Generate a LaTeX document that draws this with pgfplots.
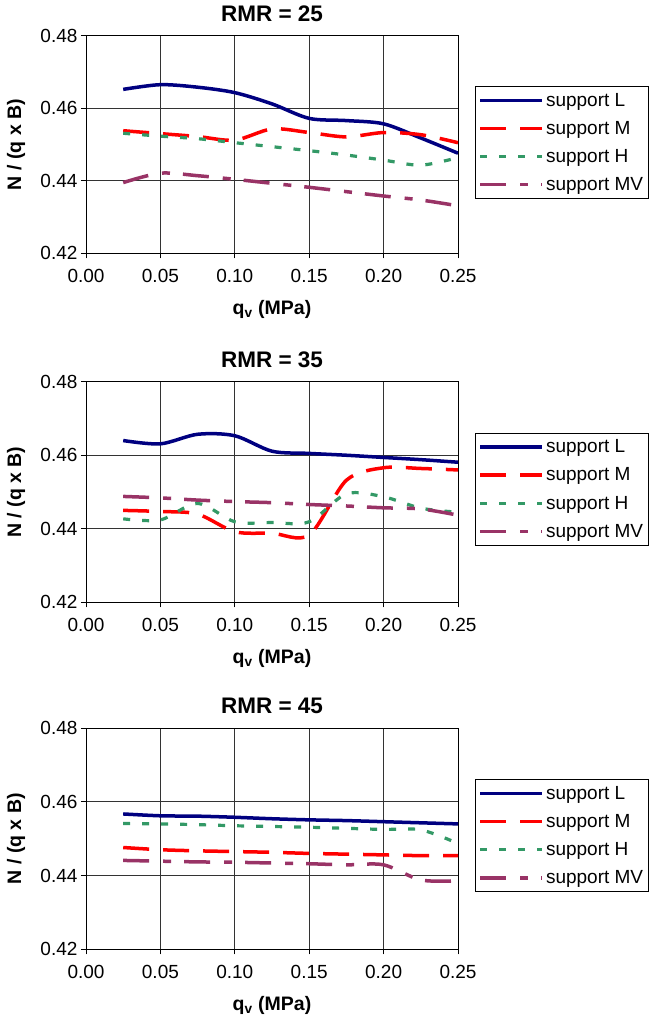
\documentclass[border=0pt]{standalone}
\usepackage{pgfplots}
\pgfplotsset{compat=1.18}
\usepackage{fontspec}
\setmainfont{Liberation Sans}
\definecolor{cL}{HTML}{000080}
\definecolor{cM}{HTML}{FF0000}
\definecolor{cH}{HTML}{339966}
\definecolor{cMV}{HTML}{993366}
\pgfplotsset{
 myax/.style={
  scale only axis, width=372pt,
  xmin=0, xmax=0.25, ymin=0.42, ymax=0.48,
  xtick={0,0.05,0.10,0.15,0.20,0.25}, ytick={0.42,0.44,0.46,0.48},
  grid=major, major grid style={line width=0.8pt, black!80},
  axis line style={line width=0.9pt, black},
  tick align=outside, tick pos=left, major tick length=5pt,
  tick style={line width=0.8pt, black},
  tick label style={font=\fontsize{19}{22}\selectfont},
  xticklabel style={yshift=-7pt},
  /pgf/number format/.cd, fixed, fixed zerofill, precision=2, assume math mode=true, /pgfplots/.cd,
  title style={font=\bfseries\fontsize{22.5}{26}\selectfont, at={(0.5,1)}, anchor=base, yshift=8.5pt, inner sep=0pt},
  xlabel={q\textsubscript{v} (MPa)},
  ylabel={N / (q x B)},
  xlabel style={font=\bfseries\fontsize{19.5}{22}\selectfont, at={(0.5,0)}, anchor=base, yshift=-60.7pt, inner sep=0pt},
  ylabel style={font=\bfseries\fontsize{19.5}{22}\selectfont, at={(-0.188,0.5)}, anchor=center, inner sep=0pt},
  legend style={draw=black, line width=0.8pt, at={(1.046,0.768)}, anchor=north west,
     inner xsep=3pt, inner ysep=4.5pt, font=\fontsize{19}{22}\selectfont, row sep=9.5pt,
     /tikz/every even column/.append style={column sep=3pt}},
  legend cell align=left,
  legend image code/.code={\draw[##1] (0pt,0pt) -- (62pt,0pt);},
  every axis plot/.append style={line width=3.5pt, smooth, no marks},
 },
 sL/.style={color=cL, solid},
 sM/.style={color=cM, dash pattern=on 26pt off 14pt},
 sH/.style={color=cH, dash pattern=on 7pt off 12pt, line width=3.2pt},
 sMV/.style={color=cMV, dash pattern=on 26pt off 14pt on 8pt off 13pt},
}
\begin{document}
\begin{tikzpicture}
\useasboundingbox (0,0) rectangle (652pt,-1020pt);
% ---------- RMR 25
\begin{axis}[myax, height=217.6pt, at={(86pt,-253.3pt)}, anchor=south west, title={RMR = 25}]
\addplot[sL] coordinates {(0.025,0.4652)(0.05,0.4665)(0.075,0.4658)(0.10,0.4643)(0.125,0.4612)(0.15,0.4572)(0.175,0.4566)(0.20,0.4557)(0.225,0.4518)(0.25,0.4476)};
\addplot[sM] coordinates {(0.025,0.4538)(0.05,0.4530)(0.075,0.4522)(0.10,0.4512)(0.125,0.4543)(0.15,0.4533)(0.175,0.4521)(0.20,0.4533)(0.225,0.4527)(0.25,0.4505)};
\addplot[sH] coordinates {(0.025,0.4531)(0.05,0.4523)(0.075,0.4516)(0.10,0.4505)(0.125,0.4494)(0.15,0.4483)(0.175,0.4471)(0.20,0.4457)(0.225,0.4443)(0.25,0.4464)};
\addplot[sMV] coordinates {(0.025,0.4395)(0.05,0.4421)(0.075,0.4414)(0.10,0.4404)(0.125,0.4393)(0.15,0.4382)(0.175,0.4370)(0.20,0.4358)(0.225,0.4347)(0.25,0.4331)};
\legend{support L, support M, support H, support MV}
\end{axis}
% ---------- RMR 35
\begin{axis}[myax, height=220.6pt, at={(86pt,-602.3pt)}, anchor=south west, title={RMR = 35}]
\addplot[sL] coordinates {(0.025,0.4640)(0.05,0.4631)(0.075,0.4657)(0.10,0.4653)(0.125,0.4611)(0.15,0.4605)(0.175,0.4600)(0.20,0.4594)(0.225,0.4588)(0.25,0.4581)};
\addplot[sM] coordinates {(0.025,0.4450)(0.05,0.4447)(0.075,0.4440)(0.10,0.4392)(0.125,0.4388)(0.15,0.4383)(0.175,0.4532)(0.20,0.4566)(0.225,0.4564)(0.25,0.4560)};
\addplot[sH] coordinates {(0.025,0.4427)(0.05,0.4424)(0.075,0.4469)(0.10,0.4419)(0.125,0.4417)(0.15,0.4419)(0.175,0.4495)(0.20,0.4487)(0.225,0.4456)(0.25,0.4445)};
\addplot[sMV] coordinates {(0.025,0.4488)(0.05,0.4484)(0.075,0.4478)(0.10,0.4474)(0.125,0.4471)(0.15,0.4466)(0.175,0.4462)(0.20,0.4457)(0.225,0.4454)(0.25,0.4437)};
\legend{support L, support M, support H, support MV}
\end{axis}
% ---------- RMR 45
\begin{axis}[myax, height=221.3pt, at={(86pt,-949.3pt)}, anchor=south west, title={RMR = 45}]
\addplot[sL] coordinates {(0.025,0.4567)(0.05,0.4562)(0.075,0.4561)(0.10,0.4558)(0.125,0.4554)(0.15,0.4551)(0.175,0.4549)(0.20,0.4546)(0.225,0.4543)(0.25,0.4540)};
\addplot[sM] coordinates {(0.025,0.4476)(0.05,0.4470)(0.075,0.4467)(0.10,0.4465)(0.125,0.4463)(0.15,0.4460)(0.175,0.4458)(0.20,0.4456)(0.225,0.4454)(0.25,0.4454)};
\addplot[sH] coordinates {(0.025,0.4541)(0.05,0.4540)(0.075,0.4538)(0.10,0.4535)(0.125,0.4533)(0.15,0.4531)(0.175,0.4528)(0.20,0.4525)(0.225,0.4524)(0.25,0.4487)};
\addplot[sMV] coordinates {(0.025,0.4441)(0.05,0.4439)(0.075,0.4437)(0.10,0.4436)(0.125,0.4434)(0.15,0.4432)(0.175,0.4429)(0.20,0.4429)(0.225,0.4388)(0.25,0.4386)};
\legend{support L, support M, support H, support MV}
\end{axis}
\end{tikzpicture}
\end{document}
